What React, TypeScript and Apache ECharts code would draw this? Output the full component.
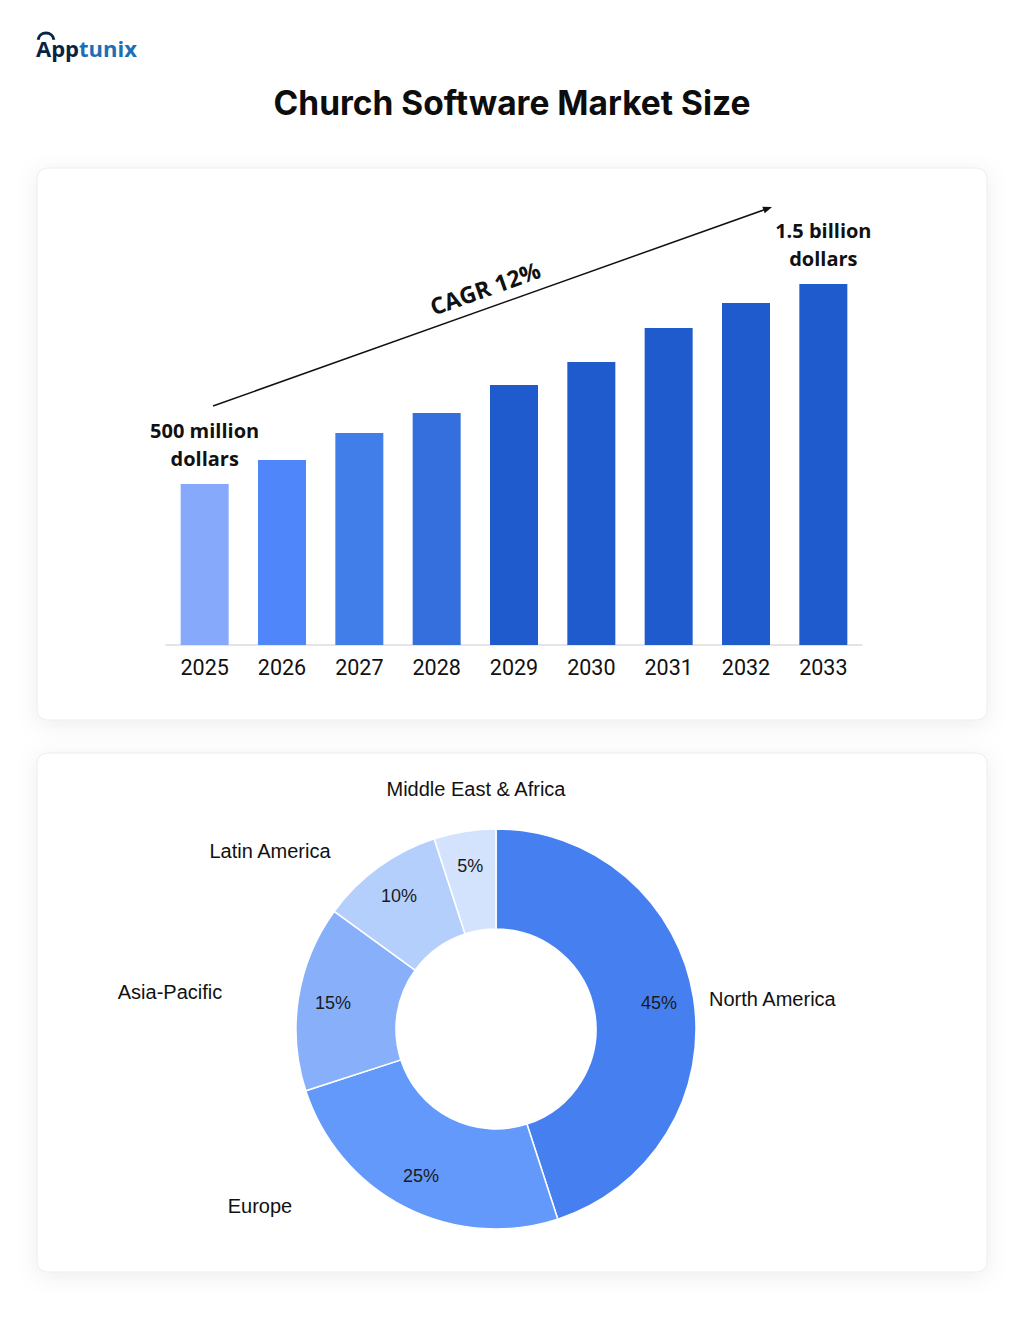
import React, { useEffect, useRef } from "react";
import * as echarts from "echarts";

// ---- Data ----
const years = ["2025", "2026", "2027", "2028", "2029", "2030", "2031", "2032", "2033"];
// relative bar heights (unitless market size index)
const barValues = [161, 185, 212, 232, 260, 283, 317, 342, 361];
const barColors = ["#86a9fb", "#4f87fb", "#417ee9", "#346fdd", "#1f5bcc", "#1f5bcc", "#1f5bcc", "#1f5bcc", "#1f5bcc"];
const firstBarLabel = "500 million\ndollars";
const lastBarLabel = "1.5 billion\ndollars";
const cagrText = "CAGR 12%";

const regions = ["North America", "Europe", "Asia-Pacific", "Latin America", "Middle East & Africa"];
const shares = [45, 25, 15, 10, 5];
const regionColors = ["#4680f0", "#6399fa", "#88b0fa", "#b5cffc", "#d4e3fd"];

const titleText = "Church Software Market Size";

// layout of outer region-name labels (x, y, align), in region order
const nameLabelLayout = [
  { x: 709, y: 999, align: "left" },
  { x: 260, y: 1206, align: "center" },
  { x: 170, y: 992, align: "center" },
  { x: 270, y: 851, align: "center" },
  { x: 476, y: 789, align: "center" },
];

export default function App() {
  const ref = useRef<HTMLDivElement>(null);
  useEffect(() => {
    if (!ref.current) return;
    const chart = echarts.init(ref.current, undefined, { renderer: "svg" });

    const barData = barValues.map((v, i) => {
      const item: any = { value: v, itemStyle: { color: barColors[i] } };
      if (i === 0 || i === barValues.length - 1) {
        item.label = {
          show: true,
          position: "top",
          distance: 12,
          formatter: i === 0 ? firstBarLabel : lastBarLabel,
          fontFamily: "Open Sans",
          fontWeight: 700,
          fontSize: 20,
          lineHeight: 28,
          color: "#111",
          align: "center",
        };
      }
      return item;
    });

    // arrow geometry
    const ax1 = 213, ay1 = 406, ax2 = 772, ay2 = 207;
    const ang = Math.atan2(ay2 - ay1, ax2 - ax1);
    const hl = 9, hw = 3.5;
    const head = [
      [ax2, ay2],
      [ax2 - hl * Math.cos(ang) + hw * Math.sin(ang), ay2 - hl * Math.sin(ang) - hw * Math.cos(ang)],
      [ax2 - hl * Math.cos(ang) - hw * Math.sin(ang), ay2 - hl * Math.sin(ang) + hw * Math.cos(ang)],
    ];

    const panelStyle = {
      fill: "#ffffff",
      stroke: "#ececec",
      lineWidth: 1,
      shadowBlur: 22,
      shadowColor: "rgba(0,0,0,0.07)",
      shadowOffsetY: 4,
    };

    chart.setOption({
      animation: false,
      backgroundColor: "#ffffff",
      graphic: [
        { type: "rect", z: -10, shape: { x: 37, y: 168, width: 950, height: 552, r: 10 }, style: panelStyle },
        { type: "rect", z: -10, shape: { x: 37, y: 753, width: 950, height: 519, r: 10 }, style: panelStyle },
        {
          type: "text",
          left: "center",
          top: 86,
          style: {
            text: titleText,
            font: "700 33.5px Inter",
            fill: "#0d0d0d",
          },
        },
        {
          type: "arc",
          shape: { cx: 46, cy: 41, r: 8, startAngle: Math.PI * 1.05, endAngle: Math.PI * 1.95 },
          style: { stroke: "#0a2342", lineWidth: 3, fill: "none" },
        },
        {
          type: "text",
          x: 36,
          y: 48,
          style: {
            text: "{a|App}{b|tunix}",
            verticalAlign: "middle",
            rich: {
              a: { font: "700 22px 'Open Sans'", fill: "#0a2342" },
              b: { font: "700 22px 'Open Sans'", fill: "#1d6fb5" },
            },
          },
        },
        {
          type: "line",
          shape: { x1: ax1, y1: ay1, x2: ax2 - 4 * Math.cos(ang), y2: ay2 - 4 * Math.sin(ang) },
          style: { stroke: "#111", lineWidth: 1.5 },
        },
        { type: "polygon", shape: { points: head }, style: { fill: "#111" } },
        {
          type: "text",
          x: 485,
          y: 288,
          rotation: -ang,
          style: {
            text: cagrText,
            font: "700 23px 'Open Sans'",
            fill: "#111",
            align: "center",
            verticalAlign: "middle",
          },
        },
      ],
      grid: { left: 166, right: 162, top: 245, bottom: 1334 - 645 },
      xAxis: {
        type: "category",
        data: years,
        axisLine: { show: true, lineStyle: { color: "#dcdcdc", width: 1.5 } },
        axisTick: { show: false },
        axisLabel: { margin: 11, fontFamily: "Roboto", fontSize: 21.5, color: "#111" },
      },
      yAxis: { type: "value", min: 0, max: 400, show: false, splitLine: { show: false } },
      series: [
        {
          type: "bar",
          data: barData,
          barWidth: 48,
          silent: true,
        },
        {
          type: "pie",
          center: [496, 1029],
          radius: [100, 200],
          startAngle: 90,
          clockwise: true,
          silent: true,
          data: regions.map((r, i) => ({ name: r, value: shares[i], itemStyle: { color: regionColors[i] } })),
          itemStyle: { borderColor: "#ffffff", borderWidth: 1.5 },
          label: {
            show: true,
            position: "outside",
            formatter: "{b}",
            fontFamily: "Liberation Sans",
            fontSize: 20,
            color: "#111",
          },
          labelLine: { show: false },
          labelLayout: (p: any) => {
            const l = nameLabelLayout[p.dataIndex];
            return { x: l.x, y: l.y, align: l.align, verticalAlign: "middle" };
          },
        },
        {
          type: "pie",
          center: [496, 1029],
          radius: [124, 200],
          startAngle: 90,
          clockwise: true,
          silent: true,
          z: 3,
          data: regions.map((r, i) => ({ name: r, value: shares[i] })),
          itemStyle: { color: "rgba(0,0,0,0)", borderWidth: 0 },
          label: {
            show: true,
            position: "inside",
            formatter: "{c}%",
            fontFamily: "Liberation Sans",
            fontSize: 18,
            color: "#1a1a1a",
          },
          labelLine: { show: false },
        },
      ],
    });
    return () => chart.dispose();
  }, []);
  return (
    <div
      ref={ref}
      style={{ position: "absolute", left: 0, top: 0, width: 1024, height: 1334 }}
    />
  );
}
